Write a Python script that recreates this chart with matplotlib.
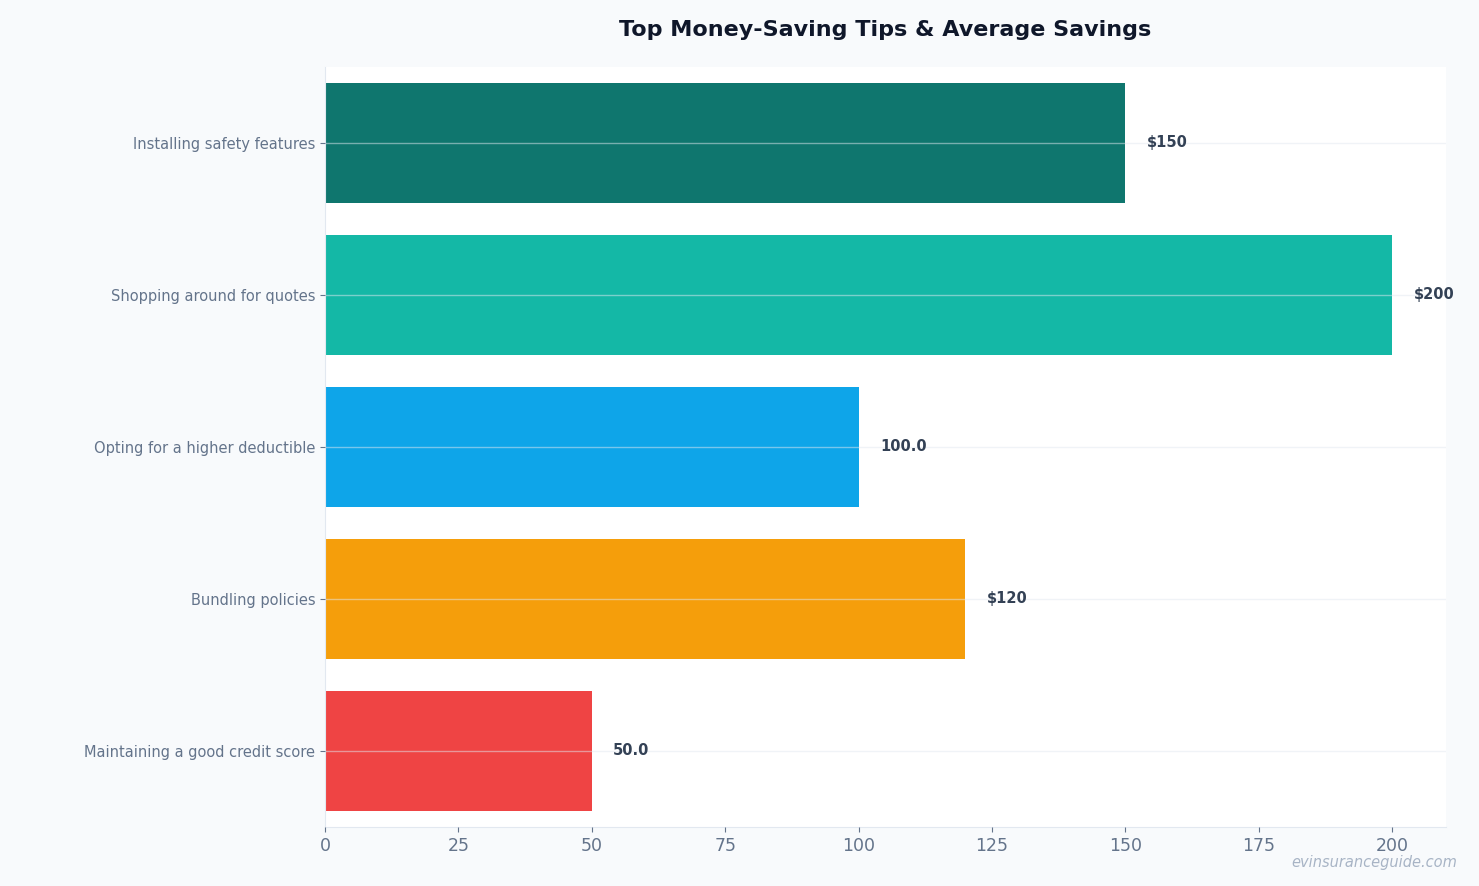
import matplotlib
matplotlib.use("Agg")
import matplotlib.pyplot as plt

categories = ["Installing safety features", "Shopping around for quotes", "Opting for a higher deductible",
              "Bundling policies", "Maintaining a good credit score"]
values = [150, 200, 100, 120, 50]
labels = ["$150", "$200", "100.0", "$120", "50.0"]
colors = ["#0f766e", "#14b8a6", "#0ea5e9", "#f59e0b", "#ef4444"]

fig = plt.figure(figsize=(14.79, 8.86), dpi=100, facecolor="#f8fafc")
ax = fig.add_axes([0.2197, 0.0666, 0.7577, 0.8578])
ax.set_facecolor("white")
y = list(range(len(categories)))[::-1]
ax.barh(y, values, height=0.79, color=colors, zorder=2)
for yi, v, l in zip(y, values, labels):
    ax.text(v + 4, yi, l, va="center", ha="left", fontsize=10.5, fontweight="bold", color="#334155", zorder=4)
ax.set_yticks(y)
ax.set_yticklabels(categories)
ax.set_xlim(0, 210)
ax.set_ylim(-0.5, len(categories) - 0.5)
ax.set_xticks([0, 25, 50, 75, 100, 125, 150, 175, 200])
ax.grid(axis="y", color="#e2e8f0", alpha=0.5, linewidth=1, zorder=3)
ax.set_axisbelow(False)
ax.grid(axis="x", visible=False)
for s in ["top", "right"]:
    ax.spines[s].set_visible(False)
for s in ["left", "bottom"]:
    ax.spines[s].set_color("#e2e8f0")
ax.tick_params(axis="y", colors="#64748b", labelsize=10.5, labelcolor="#64748b")
ax.tick_params(axis="x", colors="#64748b", labelsize=12.5, labelcolor="#64748b")
ax.set_title("Top Money-Saving Tips & Average Savings", fontsize=16, fontweight="bold", color="#0f172a", pad=22)
fig.text(0.985, 0.018, "evinsuranceguide.com", ha="right", va="bottom", fontsize=10.5, style="italic",
         color="#94a3b8", alpha=0.8)
fig.savefig("out.png", dpi=100, facecolor=fig.get_facecolor())
